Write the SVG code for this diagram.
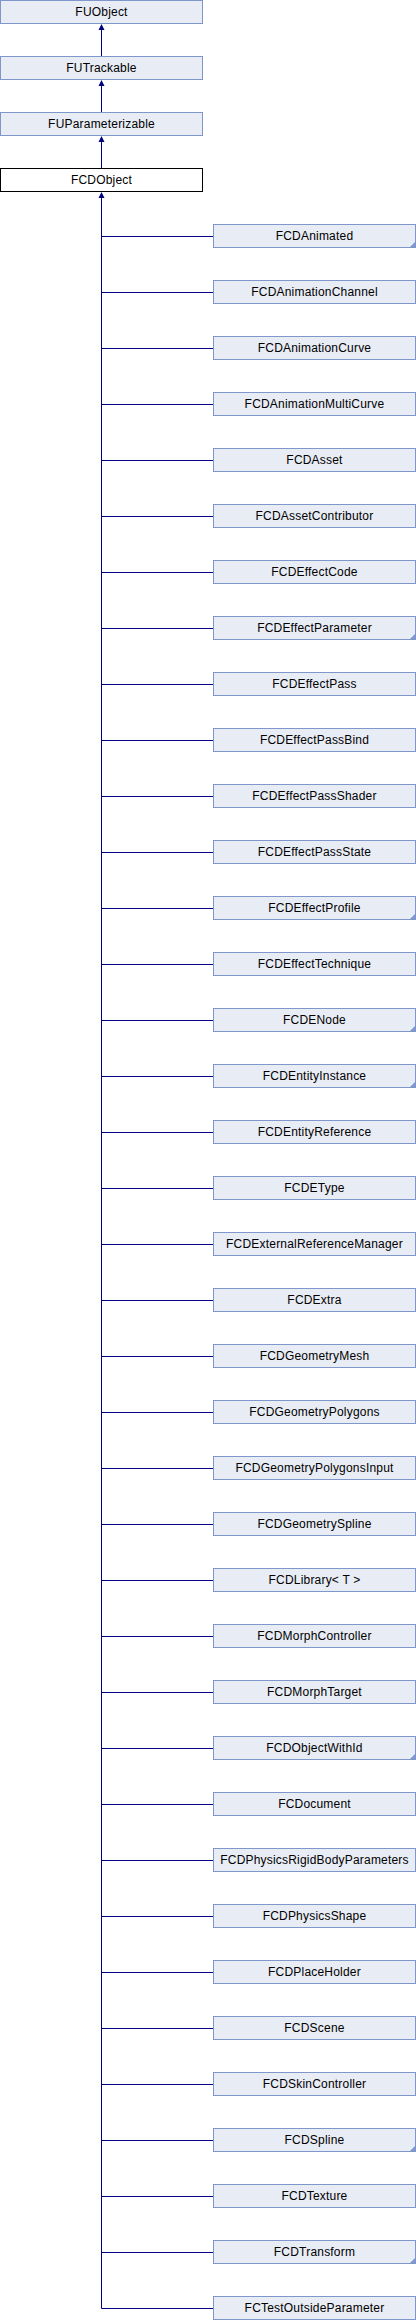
<svg xmlns="http://www.w3.org/2000/svg" width="416" height="2320" viewBox="0 0 416 2320">
<style>
.box{fill:#E8ECF5;stroke:#7F97CB;stroke-width:1}
.cur{fill:#FFFFFF;stroke:#000000;stroke-width:1}
text{font-family:"Liberation Sans",Arial,sans-serif;font-size:12px;letter-spacing:0.2px;text-anchor:middle;fill:#000000}
.more{fill:#7F97CB;stroke:none}
.edge{stroke:#000080;stroke-width:1;fill:none}
.arr{fill:#000080;stroke:none}
</style>
<rect width="416" height="2320" fill="#FFFFFF"/>
<g id="connectors">
<line class="edge" x1="101.5" y1="29" x2="101.5" y2="56"/>
<polygon class="arr" points="101.5,24 98.5,30 104.5,30"/>
<line class="edge" x1="101.5" y1="85" x2="101.5" y2="112"/>
<polygon class="arr" points="101.5,80 98.5,86 104.5,86"/>
<line class="edge" x1="101.5" y1="141" x2="101.5" y2="168"/>
<polygon class="arr" points="101.5,136 98.5,142 104.5,142"/>
<line class="edge" x1="101.5" y1="197" x2="101.5" y2="2308.5"/>
<polygon class="arr" points="101.5,192 98.5,198 104.5,198"/>
<path class="edge" d="M101.5 236.5H213M101.5 292.5H213M101.5 348.5H213M101.5 404.5H213M101.5 460.5H213M101.5 516.5H213M101.5 572.5H213M101.5 628.5H213M101.5 684.5H213M101.5 740.5H213M101.5 796.5H213M101.5 852.5H213M101.5 908.5H213M101.5 964.5H213M101.5 1020.5H213M101.5 1076.5H213M101.5 1132.5H213M101.5 1188.5H213M101.5 1244.5H213M101.5 1300.5H213M101.5 1356.5H213M101.5 1412.5H213M101.5 1468.5H213M101.5 1524.5H213M101.5 1580.5H213M101.5 1636.5H213M101.5 1692.5H213M101.5 1748.5H213M101.5 1804.5H213M101.5 1860.5H213M101.5 1916.5H213M101.5 1972.5H213M101.5 2028.5H213M101.5 2084.5H213M101.5 2140.5H213M101.5 2196.5H213M101.5 2252.5H213M101.5 2308.5H213"/>
</g>
<g id="FUObject" transform="translate(0,0)"><rect class="box" x="0.5" y="0.5" width="202" height="23"/><text x="101.5" y="15.5">FUObject</text></g>
<g id="FUTrackable" transform="translate(0,56)"><rect class="box" x="0.5" y="0.5" width="202" height="23"/><text x="101.5" y="15.5">FUTrackable</text></g>
<g id="FUParameterizable" transform="translate(0,112)"><rect class="box" x="0.5" y="0.5" width="202" height="23"/><text x="101.5" y="15.5">FUParameterizable</text></g>
<g id="FCDObject" transform="translate(0,168)"><rect class="cur" x="0.5" y="0.5" width="202" height="23"/><text x="101.5" y="15.5">FCDObject</text></g>
<g id="FCDAnimated" transform="translate(213,224)"><rect class="box" x="0.5" y="0.5" width="202" height="23"/><text x="101.5" y="15.5">FCDAnimated</text><polygon class="more" points="196.5,23.5 202.5,17.5 202.5,23.5"/></g>
<g id="FCDAnimationChannel" transform="translate(213,280)"><rect class="box" x="0.5" y="0.5" width="202" height="23"/><text x="101.5" y="15.5">FCDAnimationChannel</text></g>
<g id="FCDAnimationCurve" transform="translate(213,336)"><rect class="box" x="0.5" y="0.5" width="202" height="23"/><text x="101.5" y="15.5">FCDAnimationCurve</text></g>
<g id="FCDAnimationMultiCurve" transform="translate(213,392)"><rect class="box" x="0.5" y="0.5" width="202" height="23"/><text x="101.5" y="15.5">FCDAnimationMultiCurve</text></g>
<g id="FCDAsset" transform="translate(213,448)"><rect class="box" x="0.5" y="0.5" width="202" height="23"/><text x="101.5" y="15.5">FCDAsset</text></g>
<g id="FCDAssetContributor" transform="translate(213,504)"><rect class="box" x="0.5" y="0.5" width="202" height="23"/><text x="101.5" y="15.5">FCDAssetContributor</text></g>
<g id="FCDEffectCode" transform="translate(213,560)"><rect class="box" x="0.5" y="0.5" width="202" height="23"/><text x="101.5" y="15.5">FCDEffectCode</text></g>
<g id="FCDEffectParameter" transform="translate(213,616)"><rect class="box" x="0.5" y="0.5" width="202" height="23"/><text x="101.5" y="15.5">FCDEffectParameter</text><polygon class="more" points="196.5,23.5 202.5,17.5 202.5,23.5"/></g>
<g id="FCDEffectPass" transform="translate(213,672)"><rect class="box" x="0.5" y="0.5" width="202" height="23"/><text x="101.5" y="15.5">FCDEffectPass</text></g>
<g id="FCDEffectPassBind" transform="translate(213,728)"><rect class="box" x="0.5" y="0.5" width="202" height="23"/><text x="101.5" y="15.5">FCDEffectPassBind</text></g>
<g id="FCDEffectPassShader" transform="translate(213,784)"><rect class="box" x="0.5" y="0.5" width="202" height="23"/><text x="101.5" y="15.5">FCDEffectPassShader</text></g>
<g id="FCDEffectPassState" transform="translate(213,840)"><rect class="box" x="0.5" y="0.5" width="202" height="23"/><text x="101.5" y="15.5">FCDEffectPassState</text></g>
<g id="FCDEffectProfile" transform="translate(213,896)"><rect class="box" x="0.5" y="0.5" width="202" height="23"/><text x="101.5" y="15.5">FCDEffectProfile</text><polygon class="more" points="196.5,23.5 202.5,17.5 202.5,23.5"/></g>
<g id="FCDEffectTechnique" transform="translate(213,952)"><rect class="box" x="0.5" y="0.5" width="202" height="23"/><text x="101.5" y="15.5">FCDEffectTechnique</text></g>
<g id="FCDENode" transform="translate(213,1008)"><rect class="box" x="0.5" y="0.5" width="202" height="23"/><text x="101.5" y="15.5">FCDENode</text><polygon class="more" points="196.5,23.5 202.5,17.5 202.5,23.5"/></g>
<g id="FCDEntityInstance" transform="translate(213,1064)"><rect class="box" x="0.5" y="0.5" width="202" height="23"/><text x="101.5" y="15.5">FCDEntityInstance</text><polygon class="more" points="196.5,23.5 202.5,17.5 202.5,23.5"/></g>
<g id="FCDEntityReference" transform="translate(213,1120)"><rect class="box" x="0.5" y="0.5" width="202" height="23"/><text x="101.5" y="15.5">FCDEntityReference</text></g>
<g id="FCDEType" transform="translate(213,1176)"><rect class="box" x="0.5" y="0.5" width="202" height="23"/><text x="101.5" y="15.5">FCDEType</text></g>
<g id="FCDExternalReferenceManager" transform="translate(213,1232)"><rect class="box" x="0.5" y="0.5" width="202" height="23"/><text x="101.5" y="15.5">FCDExternalReferenceManager</text></g>
<g id="FCDExtra" transform="translate(213,1288)"><rect class="box" x="0.5" y="0.5" width="202" height="23"/><text x="101.5" y="15.5">FCDExtra</text></g>
<g id="FCDGeometryMesh" transform="translate(213,1344)"><rect class="box" x="0.5" y="0.5" width="202" height="23"/><text x="101.5" y="15.5">FCDGeometryMesh</text></g>
<g id="FCDGeometryPolygons" transform="translate(213,1400)"><rect class="box" x="0.5" y="0.5" width="202" height="23"/><text x="101.5" y="15.5">FCDGeometryPolygons</text></g>
<g id="FCDGeometryPolygonsInput" transform="translate(213,1456)"><rect class="box" x="0.5" y="0.5" width="202" height="23"/><text x="101.5" y="15.5">FCDGeometryPolygonsInput</text></g>
<g id="FCDGeometrySpline" transform="translate(213,1512)"><rect class="box" x="0.5" y="0.5" width="202" height="23"/><text x="101.5" y="15.5">FCDGeometrySpline</text></g>
<g id="FCDLibrary_T" transform="translate(213,1568)"><rect class="box" x="0.5" y="0.5" width="202" height="23"/><text x="101.5" y="15.5">FCDLibrary&lt; T &gt;</text></g>
<g id="FCDMorphController" transform="translate(213,1624)"><rect class="box" x="0.5" y="0.5" width="202" height="23"/><text x="101.5" y="15.5">FCDMorphController</text></g>
<g id="FCDMorphTarget" transform="translate(213,1680)"><rect class="box" x="0.5" y="0.5" width="202" height="23"/><text x="101.5" y="15.5">FCDMorphTarget</text></g>
<g id="FCDObjectWithId" transform="translate(213,1736)"><rect class="box" x="0.5" y="0.5" width="202" height="23"/><text x="101.5" y="15.5">FCDObjectWithId</text><polygon class="more" points="196.5,23.5 202.5,17.5 202.5,23.5"/></g>
<g id="FCDocument" transform="translate(213,1792)"><rect class="box" x="0.5" y="0.5" width="202" height="23"/><text x="101.5" y="15.5">FCDocument</text></g>
<g id="FCDPhysicsRigidBodyParameters" transform="translate(213,1848)"><rect class="box" x="0.5" y="0.5" width="202" height="23"/><text x="101.5" y="15.5">FCDPhysicsRigidBodyParameters</text></g>
<g id="FCDPhysicsShape" transform="translate(213,1904)"><rect class="box" x="0.5" y="0.5" width="202" height="23"/><text x="101.5" y="15.5">FCDPhysicsShape</text></g>
<g id="FCDPlaceHolder" transform="translate(213,1960)"><rect class="box" x="0.5" y="0.5" width="202" height="23"/><text x="101.5" y="15.5">FCDPlaceHolder</text></g>
<g id="FCDScene" transform="translate(213,2016)"><rect class="box" x="0.5" y="0.5" width="202" height="23"/><text x="101.5" y="15.5">FCDScene</text></g>
<g id="FCDSkinController" transform="translate(213,2072)"><rect class="box" x="0.5" y="0.5" width="202" height="23"/><text x="101.5" y="15.5">FCDSkinController</text></g>
<g id="FCDSpline" transform="translate(213,2128)"><rect class="box" x="0.5" y="0.5" width="202" height="23"/><text x="101.5" y="15.5">FCDSpline</text><polygon class="more" points="196.5,23.5 202.5,17.5 202.5,23.5"/></g>
<g id="FCDTexture" transform="translate(213,2184)"><rect class="box" x="0.5" y="0.5" width="202" height="23"/><text x="101.5" y="15.5">FCDTexture</text></g>
<g id="FCDTransform" transform="translate(213,2240)"><rect class="box" x="0.5" y="0.5" width="202" height="23"/><text x="101.5" y="15.5">FCDTransform</text><polygon class="more" points="196.5,23.5 202.5,17.5 202.5,23.5"/></g>
<g id="FCTestOutsideParameter" transform="translate(213,2296)"><rect class="box" x="0.5" y="0.5" width="202" height="23"/><text x="101.5" y="15.5">FCTestOutsideParameter</text></g>
</svg>
